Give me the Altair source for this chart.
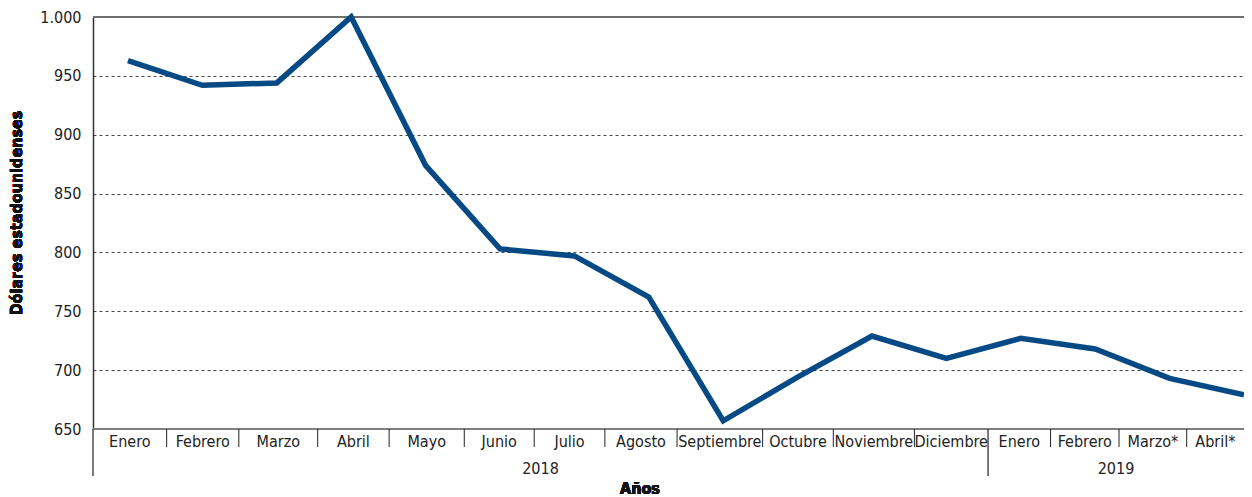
import altair as alt
import pandas as pd

months = ["Enero", "Febrero", "Marzo", "Abril", "Mayo", "Junio", "Julio", "Agosto",
          "Septiembre", "Octubre", "Noviembre", "Diciembre",
          "Enero", "Febrero", "Marzo*", "Abril*"]
years = ["2018"] * 12 + ["2019"] * 4
values = [963, 942, 944, 1000, 874, 803, 797, 762, 657, 694, 729, 710, 727, 718, 693, 679]

# category box boundaries (in month-index units)
bounds = [-0.47, 0.52, 1.49, 2.55, 3.51, 4.52, 5.46, 6.41, 7.38, 8.53, 9.48,
          10.57, 11.56, 12.40, 13.32, 14.23, 15.0]
year_names = ["2018", "2019"]
year_bounds = [-0.47, 11.56, 15.0]
y_ticks = [650, 700, 750, 800, 850, 900, 950, 1000]

W, H = 1151, 412
FONT = "DejaVu Sans Condensed, Roboto Condensed, Roboto, sans-serif"
LINE_COLOR = "#064a85"

df = pd.DataFrame({"i": list(range(len(months))), "mes": months, "anio": years, "valor": values})
lab = pd.DataFrame({
    "mes": months,
    "c": [(bounds[k] + bounds[k + 1]) / 2 for k in range(len(months))],
})
seps = pd.DataFrame({"s": bounds[1:-1]})
seps = seps[seps["s"] != year_bounds[1]]
ylab = pd.DataFrame({
    "anio": year_names,
    "c": [(year_bounds[k] + year_bounds[k + 1]) / 2 for k in range(len(year_names))],
})
longsep = pd.DataFrame({"s": [year_bounds[0], year_bounds[1]]})

xs = alt.Scale(domain=[bounds[0], bounds[-1]], nice=False, zero=False)

line = alt.Chart(df).mark_line(color=LINE_COLOR, strokeWidth=5.5, strokeJoin="miter").encode(
    x=alt.X("i:Q", scale=xs, axis=None),
    y=alt.Y("valor:Q", scale=alt.Scale(domain=[650, 1000], nice=False, zero=False),
            axis=alt.Axis(values=y_ticks, title=None, ticks=False, domain=True,
                          domainColor="#333333", domainWidth=1.5,
                          grid=True, gridDash=[3, 3], gridColor="#444444", gridWidth=1,
                          labelFont=FONT, labelFontSize=16, labelColor="#222222",
                          labelPadding=12, format="d",
                          labelExpr="datum.value == 1000 ? '1.000' : datum.label")),
)

top = alt.Chart(df).mark_rule(color="#6f6f6f", strokeWidth=2).encode(
    x=alt.value(0), x2=alt.value(W), y=alt.value(0))
bottom = alt.Chart(df).mark_rule(color="#7f7f7f", strokeWidth=2).encode(
    x=alt.value(0), x2=alt.value(W), y=alt.value(H))

sep_rules = alt.Chart(seps).mark_rule(color="#222222", strokeWidth=1).encode(
    x=alt.X("s:Q", scale=xs), y=alt.value(H), y2=alt.value(H + 18))
long_rules = alt.Chart(longsep).mark_rule(color="#222222", strokeWidth=1.2).encode(
    x=alt.X("s:Q", scale=xs), y=alt.value(H), y2=alt.value(H + 47))

month_text = alt.Chart(lab).mark_text(font=FONT, fontSize=16, color="#222222", baseline="middle").encode(
    x=alt.X("c:Q", scale=xs), y=alt.value(H + 13), text="mes:N")
year_text = alt.Chart(ylab).mark_text(font=FONT, fontSize=16, color="#222222", baseline="middle").encode(
    x=alt.value(450), y=alt.value(H + 40), text="anio:N")
year_text = alt.Chart(ylab).mark_text(font=FONT, fontSize=16, color="#222222", baseline="middle").encode(
    x=alt.X("c:Q", scale=xs), y=alt.value(H + 40), text="anio:N")
xtitle = alt.Chart(df).mark_text(font=FONT, fontSize=16, fontWeight="bold", color="#111111",
                                 baseline="middle", text="Años").encode(
    x=alt.value(547), y=alt.value(H + 60))
ytitle = alt.Chart(df).mark_text(font=FONT, fontSize=16, fontWeight="bold", color="#111111",
                                 baseline="middle", angle=270, text="Dólares estadounidenses").encode(
    x=alt.value(-76), y=alt.value(196))

chart = alt.layer(
    top, line, bottom, sep_rules, long_rules, month_text, year_text, xtitle, ytitle
).properties(
    width=W, height=H,
    autosize=alt.AutoSizeParams(type="none"),
    padding={"left": 85, "top": 9, "right": 0, "bottom": 68},
).configure_view(stroke=None)

chart.save("out.html", embed_options={"renderer": "svg", "actions": False})
